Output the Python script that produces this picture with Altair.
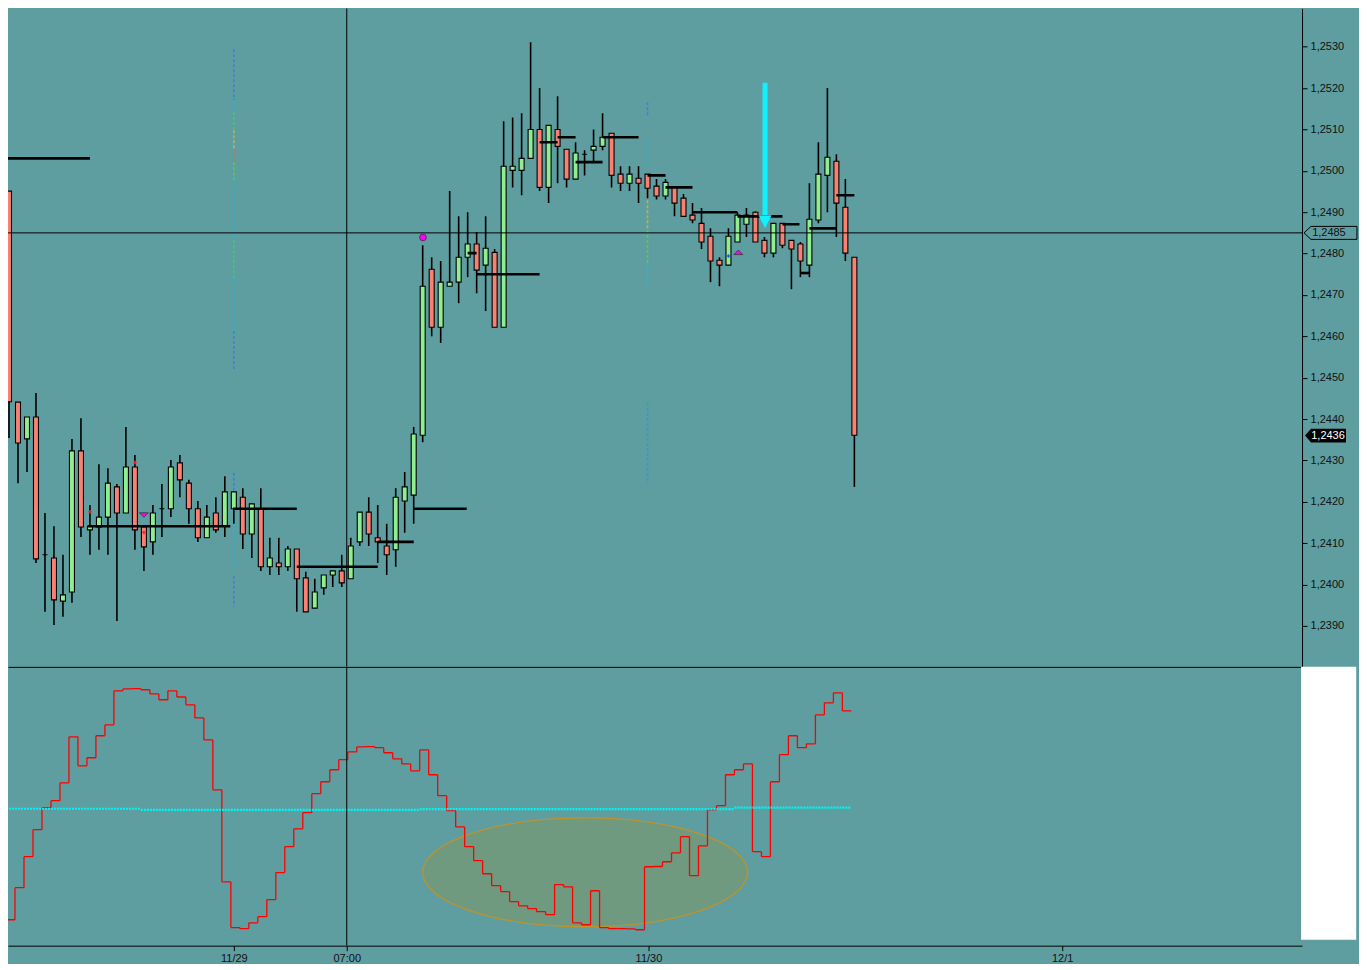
import altair as alt
import pandas as pd

# ---------------- data ----------------
open_ = [1.25004, 1.24951, 1.24441, 1.24352, 1.24405, 1.24072, 1.24064, 1.23960, 1.23982, 1.24323,
         1.24132, 1.24139, 1.24163, 1.24236, 1.24173, 1.24284, 1.24139, 1.24103, 1.24183, 1.24183,
         1.24294, 1.24245, 1.24183, 1.24113, 1.24173, 1.24141, 1.24183, 1.24211, 1.24122, 1.24183,
         1.24043, 1.24052, 1.24043, 1.24086, 1.24016, 1.23943, 1.23992, 1.24023, 1.24033, 1.24014,
         1.24103, 1.24175, 1.24113, 1.24093, 1.24084, 1.24202, 1.24216, 1.24361, 1.24762, 1.24622,
         1.24721, 1.24731, 1.24791, 1.24823, 1.24772, 1.24803, 1.24622, 1.25001, 1.25001, 1.25030,
         1.25100, 1.24960, 1.25100, 1.25052, 1.24980, 1.25040, 1.25050, 1.25059, 1.25091, 1.24992,
         1.24970, 1.24982, 1.24992, 1.24963, 1.24939, 1.24960, 1.24934, 1.24893, 1.24873, 1.24842,
         1.24784, 1.24772, 1.24828, 1.24871, 1.24900, 1.24832, 1.24801, 1.24873, 1.24832, 1.24823,
         1.24772, 1.24881, 1.24989, 1.25023, 1.24912, 1.24791]
high = [1.25030, 1.24951, 1.24441, 1.24405, 1.24463, 1.24173, 1.24141, 1.24072, 1.24352, 1.24402,
        1.24192, 1.24291, 1.24281, 1.24243, 1.24381, 1.24313, 1.24139, 1.24192, 1.24243, 1.24301,
        1.24313, 1.24253, 1.24202, 1.24192, 1.24211, 1.24262, 1.24224, 1.24233, 1.24195, 1.24233,
        1.24113, 1.24113, 1.24093, 1.24086, 1.24031, 1.24014, 1.24023, 1.24033, 1.24072, 1.24113,
        1.24175, 1.24211, 1.24192, 1.24147, 1.24233, 1.24272, 1.24381, 1.24820, 1.24791, 1.24782,
        1.24951, 1.24890, 1.24900, 1.24852, 1.24890, 1.24811, 1.25120, 1.25129, 1.25139, 1.25311,
        1.25200, 1.25110, 1.25180, 1.25052, 1.25069, 1.25050, 1.25100, 1.25139, 1.25091, 1.25011,
        1.25011, 1.25011, 1.24992, 1.24980, 1.24980, 1.24960, 1.24944, 1.24922, 1.24910, 1.24861,
        1.24791, 1.24861, 1.24900, 1.24910, 1.24902, 1.24840, 1.24873, 1.24873, 1.24832, 1.24828,
        1.24970, 1.25069, 1.25200, 1.25040, 1.24980, 1.24791]
low = [1.24900, 1.24354, 1.24245, 1.24272, 1.24052, 1.23934, 1.23902, 1.23922, 1.23956, 1.24115,
       1.24072, 1.24084, 1.24072, 1.23912, 1.24173, 1.24084, 1.24033, 1.24072, 1.24115, 1.24163,
       1.24211, 1.24147, 1.24103, 1.24113, 1.24125, 1.24115, 1.24147, 1.24086, 1.24064, 1.24033,
       1.24023, 1.24023, 1.24033, 1.23934, 1.23934, 1.23943, 1.23975, 1.23994, 1.23994, 1.24014,
       1.24093, 1.24093, 1.24052, 1.24023, 1.24043, 1.24125, 1.24147, 1.24344, 1.24600, 1.24584,
       1.24721, 1.24680, 1.24743, 1.24704, 1.24661, 1.24622, 1.24622, 1.24960, 1.24941, 1.25030,
       1.24951, 1.24922, 1.24970, 1.24960, 1.24980, 1.24989, 1.25021, 1.25050, 1.24960, 1.24951,
       1.24951, 1.24922, 1.24934, 1.24931, 1.24931, 1.24890, 1.24890, 1.24873, 1.24811, 1.24731,
       1.24721, 1.24772, 1.24828, 1.24840, 1.24828, 1.24791, 1.24791, 1.24813, 1.24714, 1.24743,
       1.24743, 1.24873, 1.24900, 1.24840, 1.24782, 1.24236]
close = [1.24941, 1.24442, 1.24342, 1.24405, 1.24062, 1.24072, 1.23963, 1.23975, 1.24323, 1.24139,
         1.24141, 1.24163, 1.24245, 1.24173, 1.24284, 1.24132, 1.24091, 1.24173, 1.24183, 1.24284,
         1.24253, 1.24183, 1.24113, 1.24163, 1.24132, 1.24224, 1.24224, 1.24122, 1.24195, 1.24043,
         1.24064, 1.24043, 1.24086, 1.24014, 1.23934, 1.23982, 1.24023, 1.24033, 1.24004, 1.24093,
         1.24175, 1.24122, 1.24103, 1.24072, 1.24211, 1.24236, 1.24364, 1.24721, 1.24622, 1.24731,
         1.24731, 1.24791, 1.24823, 1.24760, 1.24813, 1.24622, 1.25011, 1.25011, 1.25030, 1.25100,
         1.24960, 1.25110, 1.25059, 1.24980, 1.25043, 1.25040, 1.25059, 1.25081, 1.24989, 1.24970,
         1.24992, 1.24970, 1.24958, 1.24939, 1.24972, 1.24922, 1.24890, 1.24881, 1.24828, 1.24782,
         1.24772, 1.24842, 1.24893, 1.24893, 1.24828, 1.24801, 1.24873, 1.24820, 1.24811, 1.24782,
         1.24883, 1.24992, 1.25033, 1.24922, 1.24801, 1.24361]

# pivot levels (price, from bar, to bar)
piv_price = [1.25030, 1.24141, 1.24183, 1.24043, 1.24103, 1.24183, 1.24801, 1.24750, 1.25069, 1.25081,
             1.25021, 1.25081, 1.24989, 1.24960, 1.24900, 1.24890, 1.24871, 1.24753, 1.24861, 1.24941]
piv_from = [0, 9.75, 25.9, 33, 42, 46, 52, 53, 60, 62, 64, 67, 72, 74, 77, 82, 87, 89, 90, 93]
piv_to = [10, 25.6, 33, 42, 46, 51.9, 53, 60, 62, 64, 67, 71, 74, 77, 82, 87, 88.9, 90, 93, 95]

# oscillator (lower panel) and its signal level
osc = [6.3, 9.3, 20.8, 31.9, 41.6, 49.5, 52.0, 58.4, 74.9, 64.5,
       67.4, 75.3, 79.2, 91.4, 92.1, 92.2, 91.8, 90.3, 88.2, 91.4,
       89.2, 86.4, 81.7, 73.8, 55.9, 22.9, 6.5, 6.1, 8.2, 10.4,
       16.5, 26.2, 35.5, 41.9, 47.7, 54.5, 58.8, 63.1, 66.7, 69.5,
       71.3, 71.4, 71.0, 69.2, 67.0, 65.2, 62.7, 70.2, 61.3, 53.8,
       48.4, 42.6, 35.5, 30.5, 25.8, 21.5, 19.4, 15.8, 14.3, 13.3,
       12.2, 11.1, 21.9, 21.1, 8.2, 7.5, 19.7, 6.5, 6.1, 6.1,
       6.0, 5.7, 28.3, 28.4, 30.1, 33.3, 39.1, 25.1, 35.8, 48.7,
       50.2, 61.3, 63.1, 65.2, 33.7, 31.9, 58.8, 68.5, 75.3, 71.0,
       72.4, 82.8, 87.1, 90.7, 84.2]
signal = [49.1] * 16 + [48.7] * 31 + [49.0] * 35 + [49.5] * 13

# coloured dashed verticals (bar, top price, bottom price, colour)
vd_bar = [26] * 13 + [72] * 7
vd_top = [1.25294, 1.25171, 1.25142, 1.25098, 1.25050, 1.25021, 1.24977, 1.24832, 1.24741, 1.24613,
          1.24270, 1.24183, 1.24021,
          1.25166, 1.25079, 1.24989, 1.24929, 1.24857, 1.24777, 1.24439]
vd_bot = [1.25171, 1.25142, 1.25098, 1.25050, 1.25021, 1.24977, 1.24832, 1.24741, 1.24613, 1.24521,
          1.24204, 1.24043, 1.23946,
          1.25134, 1.25009, 1.24929, 1.24857, 1.24777, 1.24719, 1.24245]
vd_col = ['#3F7FE0', '#22B5D5', '#45C870', '#C8B040', '#D07050', '#60C850', '#22B5D5', '#40C880',
          '#22B5D5', '#3F7FE0', '#3F7FE0', '#22B5D5', '#3F7FE0',
          '#3F7FE0', '#22B5D5', '#D07050', '#C8B040', '#60C850', '#22B5D5', '#2E9AD8']

price_ticks = [1.2390, 1.2400, 1.2410, 1.2420, 1.2430, 1.2440, 1.2450, 1.2460,
               1.2470, 1.2480, 1.2490, 1.2500, 1.2510, 1.2520, 1.2530]
time_ticks = [26, 38.556, 72.1, 118.1]
time_labels = ["11/29", "07:00", "11/30", "12/1"]

cross_bar = 38.556
cross_price = 1.2485
last_price = 1.2436

# ---------------- style / scales ----------------
BG = '#5F9EA0'
FONT = 'Liberation Sans'
X_DOM = [8 / 9, 1303 / 9]
P_DOM = [1.2380097, 1.2539275]
XS = alt.Scale(domain=X_DOM, nice=False, zero=False, padding=0)
PS = alt.Scale(domain=P_DOM, nice=False, zero=False, padding=0)
VS = alt.Scale(domain=[0, 100], nice=False, zero=False, padding=0)

TOP_XAX = alt.Axis(orient='bottom', labels=False, ticks=False, domain=True, domainColor='black',
                   domainWidth=1, grid=False, title=None)
PAX = alt.Axis(orient='right', values=price_ticks,
               labelExpr="replace(format(datum.value, '.4f'), '.', ',')",
               tickSize=5, tickColor='black', domainColor='black', labelColor='#111111',
               labelFont=FONT, labelFontSize=11, labelPadding=3, grid=False, title=None,
               labelOverlap=False, labelFlush=False)

label_expr = "''"
for t, lab in reversed(list(zip(time_ticks, time_labels))):
    label_expr = f"abs(datum.value - {t}) < 0.5 ? '{lab}' : ({label_expr})"
BOT_XAX = alt.Axis(orient='bottom', values=time_ticks, labelExpr=label_expr, tickSize=5,
                   tickColor='black', domainColor='black', labelColor='#111111', labelFont=FONT,
                   labelFontSize=11, labelPadding=2, grid=False, title=None,
                   labelOverlap=False, labelFlush=False)


def tx(field='idx'):
    return alt.X(f'{field}:Q', scale=XS, axis=TOP_XAX)


def ty(field='price'):
    return alt.Y(f'{field}:Q', scale=PS, axis=PAX)


def bx(field='idx'):
    return alt.X(f'{field}:Q', scale=XS, axis=BOT_XAX)


def by(field='v'):
    return alt.Y(f'{field}:Q', scale=VS, axis=None)


# ---------------- top panel ----------------
candles = pd.DataFrame({'idx': range(len(open_)), 'open': open_, 'high': high,
                        'low': low, 'close': close})
candles['dir'] = ['up' if c >= o else 'down' for o, c in zip(open_, close)]

wicks = alt.Chart(candles).mark_rule(color='black', strokeWidth=1.6, clip=True).encode(
    x=tx(), y=ty('low'), y2='high:Q')
bodies = alt.Chart(candles).mark_bar(size=5, stroke='black', strokeWidth=1.1, clip=True).encode(
    x=tx(), y=ty('open'), y2='close:Q',
    fill=alt.Fill('dir:N', scale=alt.Scale(domain=['up', 'down'], range=['#90EE90', '#FA8072']),
                  legend=None))

vd = pd.DataFrame({'idx': vd_bar, 'top': vd_top, 'bot': vd_bot, 'col': vd_col})
dashed = alt.Chart(vd).mark_rule(strokeWidth=1.6, strokeDash=[3, 2], clip=True).encode(
    x=tx(), y=ty('top'), y2='bot:Q', color=alt.Color('col:N', scale=None))

piv = pd.DataFrame({'idx': piv_from, 'idx2': piv_to, 'price': piv_price})
pivots = alt.Chart(piv).mark_rule(color='black', strokeWidth=2.6, clip=True).encode(
    x=tx(), x2='idx2:Q', y=ty())

hcross = alt.Chart(pd.DataFrame({'price': [cross_price]})).mark_rule(
    color='black', strokeWidth=1, clip=True).encode(y=ty())
vcross_top = alt.Chart(pd.DataFrame({'idx': [cross_bar]})).mark_rule(
    color='black', strokeWidth=1, clip=True).encode(x=tx())

dot = alt.Chart(pd.DataFrame({'idx': [47.03], 'price': [1.24839]})).mark_point(
    shape='circle', size=45, filled=True, fill='#FF00FF', stroke='#333333', strokeWidth=0.8,
    opacity=1).encode(x=tx(), y=ty())
tri_dn = alt.Chart(pd.DataFrame({'idx': [16.0], 'price': [1.24168]})).mark_point(
    shape='M -1 -0.5 L 1 -0.5 L 0 0.5 Z', size=81, filled=True, fill='#FF00FF',
    stroke='#333333', strokeWidth=0.8, opacity=1).encode(x=tx(), y=ty())
tri_up = alt.Chart(pd.DataFrame({'idx': [82.1], 'price': [1.24803]})).mark_point(
    shape='M -1 0.5 L 1 0.5 L 0 -0.5 Z', size=81, filled=True, fill='#FF00FF',
    stroke='#333333', strokeWidth=0.8, opacity=1).encode(x=tx(), y=ty())
small_red = alt.Chart(pd.DataFrame({'idx': [10, 15, 16], 'price': [1.24176, 1.24295, 1.24126]})
                      ).mark_point(shape='cross', size=12, filled=True, color='#FF2020',
                                   opacity=1).encode(x=tx(), y=ty())
small_blue = alt.Chart(pd.DataFrame({'idx': [81], 'price': [1.24794]})).mark_point(
    shape='cross', size=12, filled=True, color='#3050FF', opacity=1).encode(x=tx(), y=ty())

arrow_shaft = alt.Chart(pd.DataFrame({'idx': [85.07], 'top': [1.25213], 'bot': [1.24893]})
                        ).mark_rule(color='#10F0FF', strokeWidth=5).encode(
    x=tx(), y=ty('top'), y2='bot:Q')
arrow_head = alt.Chart(pd.DataFrame({'idx': [85.07], 'price': [1.24877]})).mark_point(
    shape='M -1 -1 L 1 -1 L 0 1 Z', size=170, filled=True, fill='#10F0FF', opacity=1,
    strokeWidth=0).encode(x=tx(), y=ty())

box_cross = alt.Chart(pd.DataFrame({'idx': [147.94], 'price': [cross_price]})).mark_point(
    shape='M -1 0 L -0.736 -0.245 L 1 -0.245 L 1 0.245 L -0.736 0.245 Z', size=2809,
    filled=True, fill=BG, stroke='black', strokeWidth=1, opacity=1).encode(x=tx(), y=ty())
txt_cross = alt.Chart(pd.DataFrame({'idx': [145.9], 'price': [cross_price],
                                    't': ['1,2485']})).mark_text(
    align='left', baseline='middle', font=FONT, fontSize=11, color='#111111').encode(
    x=tx(), y=ty(), text='t:N')
box_last = alt.Chart(pd.DataFrame({'idx': [147.39], 'price': [last_price]})).mark_point(
    shape='M -1 0 L -0.71 -0.34 L 1 -0.34 L 1 0.34 L -0.71 0.34 Z', size=1681, filled=True,
    fill='black', strokeWidth=0, opacity=1).encode(x=tx(), y=ty())
txt_last = alt.Chart(pd.DataFrame({'idx': [145.8], 'price': [last_price],
                                   't': ['1,2436']})).mark_text(
    align='left', baseline='middle', font=FONT, fontSize=11, color='white').encode(
    x=tx(), y=ty(), text='t:N')

top = alt.layer(dashed, wicks, bodies, pivots, hcross, vcross_top, dot, tri_dn, tri_up,
                small_red, small_blue, arrow_shaft, arrow_head, box_cross, txt_cross,
                box_last, txt_last).properties(width=1295, height=659)

# ---------------- bottom panel ----------------
od = pd.DataFrame({'k': range(len(osc)), 'v': osc})
od['idx'] = od['k'] - 1 / 3
od['idx2'] = od['k'] + 2 / 3
od['vn'] = od['v'].shift(-1)
odv = od.dropna()

sd = pd.DataFrame({'k': range(len(signal)), 'v': signal})
sd['idx'] = sd['k'] - 1 / 3
sd['idx2'] = sd['k'] + 2 / 3

ellipse = alt.Chart(pd.DataFrame({'idx': [65.06], 'v': [26.3]})).mark_point(
    shape=('M -1 0 C -1 -0.185 -0.552 -0.335 0 -0.335 C 0.552 -0.335 1 -0.185 1 0 '
           'C 1 0.185 0.552 0.335 0 0.335 C -0.552 0.335 -1 0.185 -1 0 Z'),
    size=105625, filled=True, fill='#6F9A80', stroke='#C0922A', strokeWidth=1.3,
    opacity=1).encode(x=bx(), y=by())

osc_h = alt.Chart(od).mark_rule(color='#FF0000', strokeWidth=1.3, clip=True).encode(
    x=bx(), x2='idx2:Q', y=by())
osc_v = alt.Chart(odv).mark_rule(color='#FF0000', strokeWidth=1.3, clip=True).encode(
    x=bx('idx2'), y=by(), y2='vn:Q')
sig = alt.Chart(sd).mark_rule(color='#00F5F5', strokeWidth=2.2, strokeDash=[2, 1],
                              clip=True).encode(x=bx(), x2='idx2:Q', y=by())
vcross_bot = alt.Chart(pd.DataFrame({'idx': [cross_bar]})).mark_rule(
    color='black', strokeWidth=1, clip=True).encode(x=bx())
white_box = alt.Chart(pd.DataFrame({'idx': [144.67], 'idx2': [150.8], 'v': [2.15],
                                    'v2': [100.0]})).mark_rect(fill='white').encode(
    x=bx(), x2='idx2:Q', y=by(), y2='v2:Q')

bottom = alt.layer(ellipse, osc_h, osc_v, sig, vcross_bot, white_box).properties(
    width=1295, height=279)

chart = alt.vconcat(top, bottom, spacing=0, bounds='flush').properties(
    background=BG, padding=0
).configure_view(strokeWidth=0)

chart.save("out.html", embed_options={"renderer": "svg", "actions": False})
